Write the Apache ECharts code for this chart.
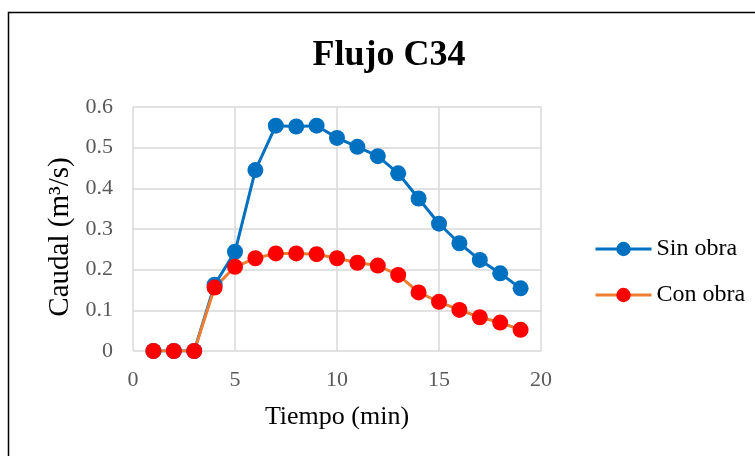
<!DOCTYPE html>
<html>
<head>
<meta charset="utf-8">
<script src="https://cdn.jsdelivr.net/npm/echarts@6/dist/echarts.min.js"></script>
<style>
  html, body { margin: 0; padding: 0; background: #fff; }
  #chart { width: 755px; height: 456px; }
</style>
</head>
<body>
<div id="chart"></div>
<script>
// tiempo (min)
const tiempo = [1, 2, 3, 4, 5, 6, 7, 8, 9, 10, 11, 12, 13, 14, 15, 16, 17, 18, 19];
// caudal (m3/s)
const sinObra = [0, 0, 0, 0.163, 0.244, 0.445, 0.554, 0.552, 0.554, 0.524, 0.502, 0.479, 0.437, 0.375, 0.313, 0.265, 0.224, 0.191, 0.154];
const conObra = [0, 0, 0, 0.156, 0.207, 0.228, 0.240, 0.240, 0.238, 0.228, 0.217, 0.210, 0.187, 0.144, 0.121, 0.101, 0.083, 0.070, 0.052];

const serif = '"Liberation Serif", "Times New Roman", serif';

const chart = echarts.init(document.getElementById('chart'));

// pares [x, y] para los ejes de valor
const toPairs = vals => tiempo.map((t, i) => [t, vals[i]]);

chart.setOption({
  animation: false,
  graphic: [{
    type: 'rect',
    shape: { x: 8.5, y: 12.5, width: 760, height: 470 },
    style: { fill: 'none', stroke: '#000', lineWidth: 1.5 },
    silent: true
  }],
  title: {
    text: 'Flujo C34',
    left: 384, top: 33, textAlign: 'center',
    textStyle: { fontFamily: serif, fontSize: 36, fontWeight: 'bold', color: '#000' }
  },
  legend: {
    orient: 'vertical',
    left: 589, top: 232,
    itemGap: 22,
    itemWidth: 56, itemHeight: 18,
    lineStyle: { width: 3 },
    textStyle: { fontFamily: serif, fontSize: 24, color: '#000' },
    data: ['Sin obra', 'Con obra']
  },
  grid: { left: 133, right: 214, top: 107, bottom: 105 },
  xAxis: {
    type: 'value',
    min: 0, max: 20, interval: 5,
    name: 'Tiempo (min)',
    nameLocation: 'middle',
    nameGap: 53,
    nameTextStyle: { fontFamily: serif, fontSize: 26, color: '#000' },
    axisLine: { show: false },
    axisTick: { show: false },
    axisLabel: { fontFamily: serif, fontSize: 22, color: '#595959', margin: 18 },
    splitLine: { show: true, lineStyle: { color: '#D9D9D9', width: 1.5 } }
  },
  yAxis: {
    type: 'value',
    min: 0, max: 0.6, interval: 0.1,
    name: 'Caudal (m³/s)',
    nameLocation: 'middle',
    nameGap: 54,
    nameRotate: 90,
    nameTextStyle: { fontFamily: serif, fontSize: 29, color: '#000', padding: [0, 16, 0, 0] },
    axisLine: { show: false },
    axisTick: { show: false },
    axisLabel: { fontFamily: serif, fontSize: 22, color: '#595959', margin: 20 },
    splitLine: { show: true, lineStyle: { color: '#D9D9D9', width: 1.5 } }
  },
  series: [
    {
      name: 'Sin obra',
      type: 'line',
      data: toPairs(sinObra),
      symbol: 'circle', symbolSize: 16,
      lineStyle: { color: '#0070C0', width: 3 },
      itemStyle: { color: '#0070C0' }
    },
    {
      name: 'Con obra',
      type: 'line',
      data: toPairs(conObra),
      symbol: 'circle', symbolSize: 16,
      lineStyle: { color: '#ED7D31', width: 3 },
      itemStyle: { color: '#FF0000' }
    }
  ]
});
</script>
</body>
</html>
